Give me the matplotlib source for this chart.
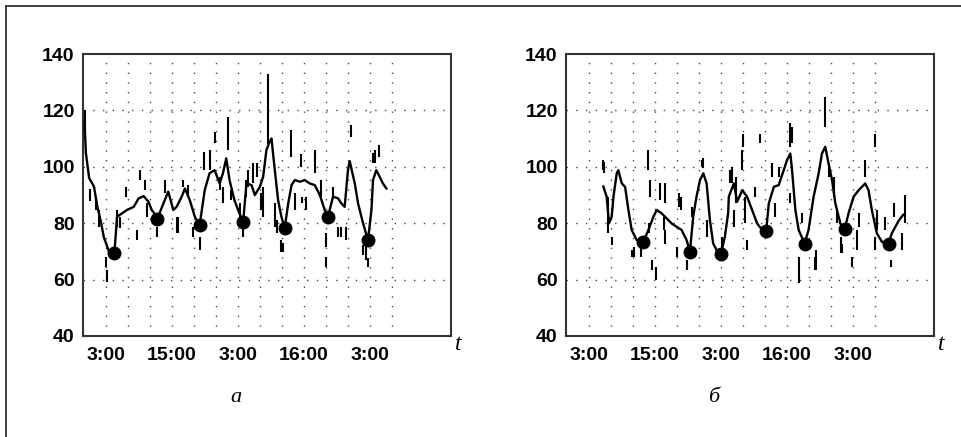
import matplotlib
matplotlib.use("Agg")
import matplotlib.pyplot as plt
from matplotlib.lines import Line2D

# ---------------- data ----------------
tick_pos = [1, 4, 7, 10, 13]
tick_labels = ["3:00", "15:00", "3:00", "16:00", "3:00"]
y_ticks = [40, 60, 80, 100, 120, 140]
grid_x = list(range(1, 15))
grid_y = [60, 80, 100, 120]

# panel "а"
a_x = [0.02, 0.08, 0.23, 0.45, 0.6, 0.75, 0.9, 1.13, 1.38, 1.5, 1.73, 1.95, 2.26, 2.48,
       2.71, 2.93, 3.08, 3.31, 3.34, 3.61, 3.83, 4.06, 4.21, 4.44, 4.59, 4.81, 5.04, 5.26,
       5.49, 5.71, 5.94, 6.17, 6.32, 6.47, 6.62, 6.84, 7.07, 7.24, 7.39, 7.62, 7.77, 8.0,
       8.15, 8.3, 8.45, 8.53, 8.68, 8.83, 8.98, 9.13, 9.29, 9.44, 9.59, 9.82, 10.04, 10.27,
       10.5, 10.73, 10.95, 11.1, 11.33, 11.56, 11.71, 11.86, 12.01, 12.09, 12.32, 12.47,
       12.7, 12.92, 13.08, 13.15, 13.3, 13.45, 13.6, 13.76]
a_y = [116, 105, 96, 93, 86, 81, 75, 70, 69.5, 82.3, 83.5, 84.7, 85.8, 88.8,
       89.6, 87.6, 84.7, 82.3, 81.7, 87, 91.2, 84.7, 85.8, 89.4, 92.3, 88.2, 82.3, 79.3,
       91.7, 97.7, 98.8, 94.1, 97.7, 103, 95.3, 88.2, 83.5, 80.5, 94.1, 93.5, 90, 92.9,
       96.5, 106, 109, 110, 98.8, 88.2, 82.3, 78.2, 87, 93.5, 95.3, 94.7, 95.3, 94.1,
       93.5, 90, 84.7, 82.3, 89.4, 88.8, 87, 85.8, 98.8, 102, 94.1, 87,
       79.9, 74, 84.7, 95.3, 98.8, 96.5, 94.1, 92.3]
a_dot_x = [1.38, 3.32, 5.26, 7.24, 9.13, 11.1, 12.92]
a_dot_y = [69.5, 81.5, 79.4, 80.5, 78.2, 82.3, 74.0]
a_sp_x = [0.05, 0.27, 0.53, 0.68, 0.98, 1.02, 1.5, 1.65, 1.92, 2.4, 2.56, 2.78, 3.34, 3.68,
          4.29, 4.51, 4.74, 4.96, 5.26, 5.44, 5.71, 5.98, 6.54, 6.32, 6.69,
          7.24, 7.39, 7.7, 8.07, 8.38, 8.68, 8.98, 9.44, 9.59, 9.89, 10.12, 10.5, 10.8,
          11.03, 11.03, 11.56, 11.94, 12.14, 12.7, 12.92, 13.23, 13.42,
          2.85, 4.21, 6.18, 7.09, 7.47, 7.85, 8.15, 8.76, 9.06, 9.9, 10.5, 11.33, 11.7,
          12.85, 13.15]
a_sp_lo = [113, 88, 84.7, 78.7, 64.6, 59.2, 78.7, 78.2, 89.4, 74, 95.3, 91.7, 75.2, 90.6,
           76.4, 93, 89.4, 75.2, 70.5, 98.8, 98.8, 108.3, 106, 87, 88.2,
           75.2, 89.4, 94.1, 84.7, 108, 78.7, 69.9, 103.6, 84.7, 100, 84.7, 102.4, 89.4,
           71.7, 64.6, 75.2, 74, 110.7, 68.7, 64.6, 101.2, 103.6,
           82.3, 76.4, 91.7, 82.3, 92.9, 96.5, 82.3, 76.4, 69.9, 87, 97.7, 89.4, 75.2,
           67, 101.2]
a_sp_hi = [120, 92, 89.4, 84.7, 68, 63.4, 84.7, 82.3, 92.9, 77.6, 98.8, 95.3, 78.7, 95.3,
           82.3, 95.3, 93.5, 78.7, 75.2, 105.3, 105.9, 112.4, 117.7, 92.9, 91.7,
           78.7, 95.3, 101.2, 90.6, 133, 87, 74, 113, 90.6, 104.7, 89.4, 105.9, 95.3,
           76.4, 68.1, 78.7, 78.7, 114.8, 72.2, 67.5, 105.9, 107.7,
           87, 82.3, 96.5, 87, 98.9, 101.2, 92.9, 81.1, 72.9, 89.4, 104.8, 92.9, 78.8,
           72.9, 104.8]

# panel "б"
b_x = [1.65, 1.8, 1.91, 2.03, 2.11, 2.26, 2.33, 2.49, 2.64, 2.79, 2.94, 3.17, 3.47, 3.7,
       3.93, 4.08, 4.3, 4.53, 4.76, 4.99, 5.21, 5.44, 5.59, 5.74, 5.89, 6.05, 6.2, 6.35,
       6.5, 6.65, 6.88, 7.0, 7.18, 7.33, 7.36, 7.59, 7.74, 7.97, 8.19, 8.42, 8.65, 8.88,
       9.06, 9.18, 9.41, 9.63, 9.86, 10.01, 10.16, 10.24, 10.39, 10.54, 10.81, 10.99,
       11.22, 11.45, 11.6, 11.75, 11.9, 12.06, 12.21, 12.44, 12.63, 12.81, 13.04, 13.27,
       13.42, 13.57, 13.72, 13.87, 14.1, 14.33, 14.63, 14.78, 14.94, 15.1, 15.3]
b_y = [93, 89.4, 80, 82.3, 89.4, 97.7, 98.8, 94.1, 92.9, 84.7, 77.6, 74, 73.4, 77.6,
       82.3, 84.7, 83.5, 81.7, 79.9, 78.7, 77.6, 74, 69.9, 82.3, 89.4, 95.3, 97.7, 94.1,
       81.1, 72.8, 69.3, 69, 75.2, 83.5, 89.4, 94.1, 87.6, 91.7, 89.4, 84.7, 79.9, 77.6,
       77.2, 87, 92.9, 93.5, 98.8, 102.4, 104.7, 98.8, 84.7, 77.6, 72.8, 77.6,
       89.4, 97.7, 104.7, 107.1, 101.2, 95.3, 87, 79.9, 77.8, 83.5, 89.4, 91.7,
       92.9, 94.1, 91.7, 84.7, 76.4, 73.4, 72.8, 76.4, 78.7, 81, 83]
b_dot_x = [3.47, 5.59, 7.0, 9.06, 10.81, 12.63, 14.63]
b_dot_y = [73.4, 69.9, 69.0, 77.2, 72.8, 77.8, 72.8]
b_sp_x = [1.65, 1.88, 2.06, 2.94, 3.36, 3.67, 3.77, 3.88, 4.03, 4.23, 4.46, 4.46, 4.99, 5.18,
          5.44, 6.2, 6.35, 7.03, 7.41, 7.51, 7.59, 7.99, 7.97, 8.19, 8.57, 8.8, 9.48, 9.63,
          10.16, 10.16, 10.54, 10.69, 11.33, 11.75, 11.9, 12.28, 12.51, 12.97, 13.27, 13.57,
          14.03, 14.03, 14.48, 14.75, 14.9, 15.4,
          1.7, 3.05, 3.73, 4.41, 5.09, 5.47, 5.7, 6.15, 7.67, 8.12, 9.33, 10.24, 11.3,
          12.14, 12.45, 13.2, 14.1, 15.24]
b_sp_lo = [98.8, 76.4, 72.2, 68.1, 68.1, 98.8, 89.4, 63.4, 59.8, 88.2, 87, 72.8, 68.1, 84.7,
           63.4, 99.4, 75.2, 70.5, 94.1, 94.1, 78.7, 107.1, 98.8, 70.5, 89.4, 108.3, 82.3, 96.5,
           107.1, 87, 58.7, 79.9, 63.4, 114.2, 96.5, 79.9, 69.3, 64.6, 78.7, 96.5,
           107.1, 70.5, 77.6, 64.6, 82.3, 80,
           97.7, 68.1, 76.4, 77.6, 85.9, 63.4, 82.3, 100, 87, 80, 96.5, 108.3, 63.4,
           89.4, 69.3, 70.5, 77.6, 70.5]
b_sp_hi = [102.4, 89.4, 75.2, 70.5, 72.8, 105.9, 95.3, 67, 64.6, 94.1, 94.1, 77.6, 71.7, 89.4,
           65.7, 103, 81.1, 75.2, 98.8, 100, 84.7, 111.8, 105.9, 74, 92.9, 111.8, 87, 100,
           115.4, 90.6, 68.1, 83.5, 70.5, 124.8, 101.2, 84.7, 72.8, 68.1, 83.5, 102.4,
           111.8, 75.2, 82.3, 67, 87, 90,
           101.8, 71.7, 80, 82.3, 90.6, 67, 85.9, 102.4, 96.5, 89.4, 101.2, 114.2, 68.1,
           96.5, 75.2, 77.6, 84.7, 76.4]

# ---------------- figure ----------------
W, H = 961, 437
fig = plt.figure(figsize=(W / 100, H / 100), dpi=100)

# outer frame (left and top edges visible)
fig.add_artist(Line2D([6 / W, 6 / W], [0, 1 - 6 / H], transform=fig.transFigure,
                      color="#333333", lw=1.3))
fig.add_artist(Line2D([6 / W, 1], [1 - 6 / H, 1 - 6 / H], transform=fig.transFigure,
                      color="#333333", lw=1.3))

tick_font = dict(family="Liberation Sans", weight="bold", size=14)


def panel(left, xs, ys, dx, dy, spx, splo, sphi, letter, letter_x):
    ax = fig.add_axes([left / W, 1 - 336 / H, 368 / W, 282 / H])
    ax.set_xlim(-0.05, 16.7)
    ax.set_ylim(40, 140)
    for g in grid_x:
        ax.axvline(g, color="#444444", lw=1.0, ls=(0, (1, 6)), zorder=1)
    for g in grid_y:
        ax.axhline(g, color="#444444", lw=1.0, ls=(0, (1, 6)), zorder=1)
    ax.vlines(spx, splo, sphi, color="black", lw=1.5, zorder=2)
    ax.plot(xs, ys, color="black", lw=1.7, zorder=3)
    ax.plot(dx, dy, "o", color="black", ms=9, zorder=4)
    ax.set_xticks(tick_pos)
    ax.set_xticklabels(tick_labels, fontdict=tick_font)
    ax.set_yticks(y_ticks)
    ax.set_yticklabels([str(v) for v in y_ticks], fontdict=tick_font)
    ax.tick_params(length=0, pad=6)
    ax.tick_params(axis="x", pad=8)
    for s in ax.spines.values():
        s.set_color("#333333")
        s.set_linewidth(1.5)
    fig.text((left + 375) / W, 1 - 344 / H, "t", family="Liberation Serif",
             style="italic", size=17, ha="center", va="center")
    fig.text(letter_x / W, 1 - 398 / H, letter, family="Liberation Serif",
             style="italic", size=16, ha="center", va="center")
    return ax


panel(83, a_x, a_y, a_dot_x, a_dot_y, a_sp_x, a_sp_lo, a_sp_hi, "а", 236)
panel(566, b_x, b_y, b_dot_x, b_dot_y, b_sp_x, b_sp_lo, b_sp_hi, "б", 714)

fig.savefig("out.png", dpi=100)
